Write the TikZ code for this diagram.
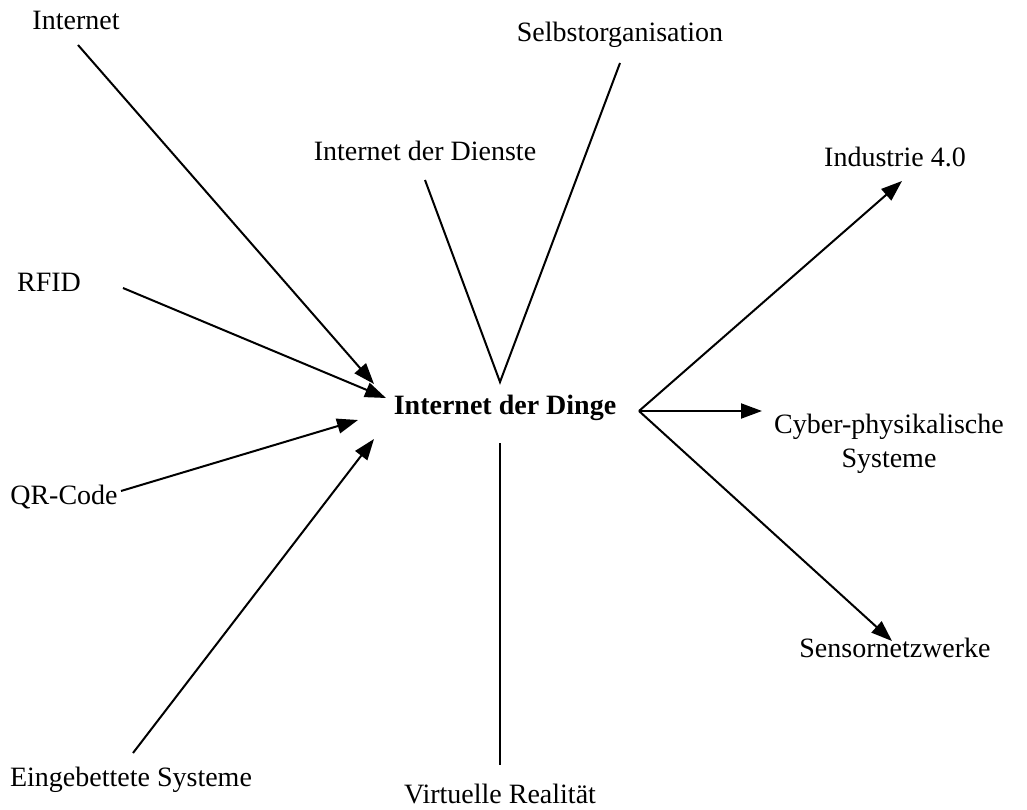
\documentclass[tikz,border=0pt]{standalone}
\usepackage{fontspec}
\setmainfont{Liberation Serif}
\usetikzlibrary{arrows.meta}
\begin{document}
\begin{tikzpicture}[x=1pt,y=-1pt,
  lbl/.style={font=\fontsize{28}{34}\selectfont, inner sep=0pt, align=center},
  arr/.style={line width=2pt, -{Triangle[length=21pt,width=15pt]}},
  ln/.style={line width=2pt}]
\useasboundingbox (0,0) rectangle (1027,810);
% labels
\node[lbl] (internet) at (76,20) {Internet};
\node[lbl] (rfid) at (49,282) {RFID};
\node[lbl] (qr) at (64,497) {QR-Code};
\node[lbl] (eing) at (131,780) {Eingebettete Systeme};
\node[lbl] (dienste) at (425,151) {Internet der Dienste};
\node[lbl] (selbst) at (620,35) {Selbstorganisation};
\node[lbl, font=\fontsize{28}{34}\selectfont\bfseries] (dinge) at (505,408) {Internet der Dinge};
\node[lbl] (virt) at (500,794) {Virtuelle Realität};
\node[lbl] (ind) at (895,157) {Industrie 4.0};
\node[lbl] (cps) at (889,444) {Cyber-physikalische\\Systeme};
\node[lbl] (sensor) at (895,648) {Sensornetzwerke};
% connector end points
\coordinate (internetS) at (78,45);
\coordinate (internetE) at (374,384);
\coordinate (rfidS) at (123,288);
\coordinate (rfidE) at (386,398);
\coordinate (qrS) at (121,491);
\coordinate (qrE) at (358,420);
\coordinate (eingS) at (133,753);
\coordinate (eingE) at (374,439);
\coordinate (apexTop) at (500,382);
\coordinate (dienteS) at (425,180);
\coordinate (selbstS) at (620,63);
\coordinate (virtS) at (500,443);
\coordinate (virtE) at (500,765);
\coordinate (apexR) at (639,411);
\coordinate (indE) at (902,181);
\coordinate (cpsE) at (762,411);
\coordinate (sensorE) at (892,641);
% connectors
\draw[arr] (internetS) -- (internetE);
\draw[arr] (rfidS) -- (rfidE);
\draw[arr] (qrS) -- (qrE);
\draw[arr] (eingS) -- (eingE);
\draw[ln] (dienteS) -- (apexTop) -- (selbstS);
\draw[ln] (virtS) -- (virtE);
\draw[arr] (apexR) -- (indE);
\draw[arr] (apexR) -- (cpsE);
\draw[arr] (apexR) -- (sensorE);
\end{tikzpicture}
\end{document}
